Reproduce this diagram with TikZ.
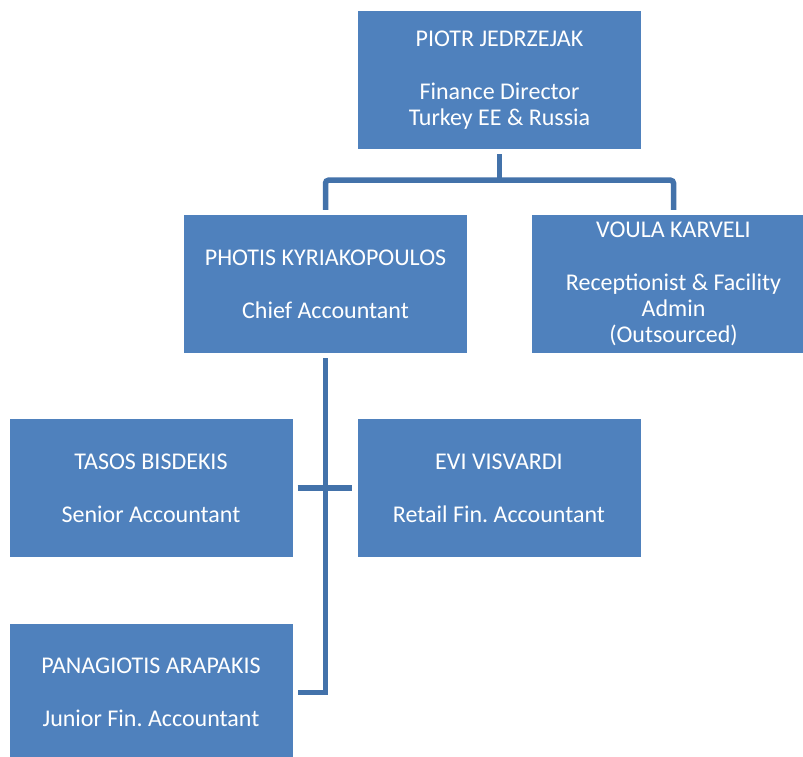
\documentclass[tikz,border=0pt]{standalone}
\usepackage{fontspec}
\setmainfont{Carlito}
\usetikzlibrary{calc}
\frenchspacing
\definecolor{boxblue}{HTML}{4F81BD}
\definecolor{lineblue}{HTML}{4372AA}
\tikzset{
  orgbox/.style={rectangle, fill=boxblue, draw=none, text=white, align=center,
    minimum width=283pt, minimum height=138pt, inner sep=0pt,
    font=\fontsize{24pt}{26.4pt}\selectfont},
  conn/.style={draw=lineblue, line width=5.5pt}
}
\begin{document}
\begin{tikzpicture}[x=1pt,y=-1pt]
\path[use as bounding box] (0,0) rectangle (803,756);
\clip (0,0) rectangle (803,756);
\node[orgbox] (piotr) at (499.5,80) {PIOTR JEDRZEJAK\\ ~ \\Finance Director\\Turkey EE \& Russia};
\node[orgbox] (photis) at (325.5,284) {PHOTIS KYRIAKOPOULOS\\ ~ \\Chief Accountant};
\node[orgbox] (voula) at (673.5,284) {VOULA KARVELI\\ ~ \\Receptionist \& Facility\\Admin\\(Outsourced)};
\node[orgbox] (tasos) at (151,488) {TASOS BISDEKIS\\ ~ \\Senior Accountant};
\node[orgbox] (evi) at (499,488) {EVI VISVARDI\\ ~ \\Retail Fin. Accountant};
\node[orgbox] (panag) at (151,692.5) {PANAGIOTIS ARAPAKIS\\ ~ \\Junior Fin. Accountant};
\coordinate (bus) at ($(piotr.south)+(0,31)$);
\draw[conn] ($(piotr.south)+(0,5)$) -- (bus);
\draw[conn, rounded corners=3pt] ($(photis.north)+(0,-5)$) |- (bus) -| ($(voula.north)+(0,-5)$);
\draw[conn] ($(photis.south)+(0,5)$) |- ($(panag.east)+(5,0)$);
\draw[conn] ($(tasos.east)+(5,0)$) -- ($(evi.west)+(-5,0)$);
\end{tikzpicture}
\end{document}
